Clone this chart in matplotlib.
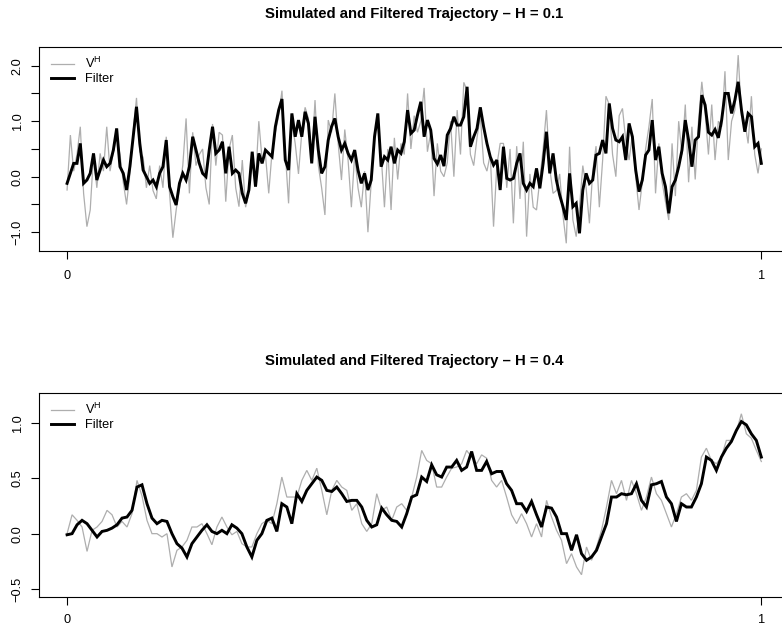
import numpy as np
import matplotlib
matplotlib.use("Agg")
import matplotlib.pyplot as plt
from matplotlib.lines import Line2D

plt.rcParams['font.family'] = ['Liberation Sans', 'DejaVu Sans']
plt.rcParams['mathtext.fontset'] = 'custom'
plt.rcParams['mathtext.rm'] = 'Liberation Sans'

# ---- H = 0.1 : simulated path and filter estimate ----
v_h01 = [
    -0.24, 0.75, 0.10, 0.40, 0.90, -0.30, -0.90, -0.60, 0.40, -0.20, 0.42, 0.10, 0.90, 0.10, 0.45, 0.70,
    0.40, -0.10, -0.50, 0.05, 0.80, 1.42, 0.45, 0.35, -0.20, 0.20, -0.25, -0.40, 0.20, -0.20, 0.72, -0.30,
    -1.10, -0.60, -0.20, 0.20, 1.05, -0.30, 0.80, 0.20, 0.40, 0.50, -0.20, -0.50,
    0.95, 0.20, 0.80, 0.75, -0.45, 0.50, 0.75, -0.20, -0.54, 0.30, -0.55, -0.25, 0.40, -0.10, 1.00, 0.30,
    0.40, -0.30, 0.45, 0.80, 1.10, 1.55, 0.45, -0.48, 1.00, 0.60, 0.05, 0.80, 1.25, 1.05, 0.30, 1.38,
    0.20, -0.20, -0.69, 1.02, 0.80, 1.50, 0.60, -0.06, 0.85, 0.30,
    -0.55, 0.40, -0.20, -0.55, 0.10, -1.00, -0.10, 0.80, 0.90, 0.40, -0.55, 0.50, -0.60, 0.70, -0.05, 0.60,
    0.40, 1.50, 0.50, 1.10, 0.80, 1.00, 1.60, 0.45, 0.80, -0.35, 0.60, 0.10, 0.00, 0.25, 1.00, 0.00,
    1.20, 0.40, 1.70, 1.55, 0.40, 0.20, 0.70, 1.10, 0.25, 0.10,
    0.40, -0.90, 0.20, 0.60, 0.60, -0.20, 0.50, -0.84, 0.55, -0.40, 0.63, -1.08, 0.05, -0.55, -0.60, -0.05,
    0.50, 1.20, 0.15, -0.30, -0.25, 0.05, -0.70, -1.20, 0.54, -0.78, -1.08, -0.55, 0.20, -0.20, -0.84, 0.10,
    0.55, -0.55, 0.30, 1.45, 1.30, 0.40, 0.00, 1.10, 1.23, 0.65,
    0.30, 0.75, 0.00, -0.60, -0.10, 0.50, 0.90, 1.40, -0.30, 0.60, -0.10, -0.45, -0.78, 0.60, -0.35, 1.00,
    0.40, 1.30, -0.10, 0.90, -0.05, 1.00, 1.71, 1.15, 0.40, 1.30, 0.30, 1.00, 0.90, 1.90, 0.30, 1.00,
    1.20, 2.19, 1.10, 1.00, 0.60, 1.45, 0.40, 0.06, 0.50,
]
filter_h01 = [
    -0.12, 0.06, 0.24, 0.24, 0.60, -0.12, -0.06, 0.06, 0.42, -0.06, 0.12, 0.30, 0.18, 0.24, 0.48, 0.87,
    0.18, 0.06, -0.24, 0.18, 0.72, 1.26, 0.60, 0.12, 0.00, -0.12, -0.06, -0.18, 0.06, 0.18, 0.66, -0.18,
    -0.36, -0.51, -0.12, 0.06, -0.06, 0.18, 0.72, 0.48, 0.24, 0.06, 0.00, 0.48,
    0.90, 0.42, 0.48, 0.63, 0.06, 0.54, 0.06, 0.12, 0.06, -0.30, -0.48, -0.24, 0.45, -0.18, 0.42, 0.24,
    0.48, 0.42, 0.36, 0.90, 1.20, 1.40, 0.30, 0.12, 1.14, 0.72, 1.02, 0.72, 1.17, 0.96, 0.24, 1.08,
    0.48, 0.06, 0.18, 0.66, 0.90, 1.05, 0.72, 0.48, 0.60, 0.42,
    0.30, 0.48, 0.12, -0.12, 0.06, -0.24, -0.06, 0.72, 1.14, 0.18, 0.36, 0.30, 0.54, 0.24, 0.48, 0.42,
    0.63, 1.20, 0.78, 0.84, 1.11, 1.35, 0.72, 1.02, 0.84, 0.33, 0.23, 0.39, 0.19, 0.75, 0.87, 1.08,
    0.93, 0.93, 1.08, 1.62, 0.54, 0.72, 0.87, 1.25, 0.90, 0.60,
    0.36, 0.21, 0.30, -0.24, 0.54, -0.03, -0.06, -0.03, 0.24, 0.42, -0.12, -0.24, -0.12, -0.18, 0.15, -0.21,
    0.24, 0.81, 0.06, 0.42, -0.06, -0.33, -0.54, -0.78, 0.06, -0.54, -0.48, -1.02, -0.24, 0.06, -0.12, -0.06,
    0.39, 0.42, 0.66, 0.42, 1.32, 0.87, 0.66, 0.63, 0.72, 0.30,
    0.96, 0.72, 0.12, -0.27, -0.06, 0.39, 0.48, 1.02, 0.30, 0.54, 0.06, -0.18, -0.66, -0.18, -0.06, 0.18,
    0.48, 1.02, 0.66, 0.18, 0.66, 0.72, 1.47, 1.29, 0.80, 0.75, 0.85, 0.70, 1.02, 1.50, 1.50, 1.14,
    1.38, 1.71, 1.20, 0.81, 1.14, 1.08, 0.54, 0.60, 0.24,
]

# ---- H = 0.4 : simulated path and filter estimate ----
v_h04 = [
    0.00, 0.17, 0.12, 0.06, -0.16, 0.03, 0.06, 0.11, 0.21, 0.17, 0.06, 0.11, 0.06, 0.18, 0.48, 0.34,
    0.12, 0.00, 0.00, -0.03, 0.00, -0.30, -0.15, -0.12, -0.06, 0.06, 0.06, 0.09, 0.00,
    -0.10, 0.06, 0.15, 0.06, -0.01, 0.02, -0.09, -0.12, -0.12, 0.00, 0.09, 0.12, 0.09, 0.27, 0.51, 0.33,
    0.33, 0.33, 0.48, 0.57, 0.48, 0.59, 0.39, 0.17, 0.39, 0.48, 0.42, 0.39,
    0.21, 0.27, 0.09, 0.02, 0.09, 0.36, 0.21, 0.24, 0.12, 0.24, 0.27, 0.21, 0.33, 0.51, 0.75, 0.66,
    0.63, 0.42, 0.42, 0.51, 0.59, 0.60, 0.63, 0.75, 0.69, 0.63, 0.71, 0.68,
    0.48, 0.42, 0.48, 0.33, 0.17, 0.09, 0.18, 0.09, -0.03, 0.09, -0.03, 0.30, 0.15, 0.03, -0.06, -0.27,
    -0.18, -0.30, -0.37, -0.12, -0.24, -0.12, 0.03, 0.24, 0.48, 0.36, 0.48, 0.30,
    0.48, 0.36, 0.21, 0.33, 0.51, 0.36, 0.30, 0.18, 0.06, 0.18, 0.33, 0.36, 0.30, 0.39, 0.69, 0.77,
    0.66, 0.63, 0.69, 0.84, 0.84, 0.92, 1.08, 0.90, 0.86, 0.75, 0.65,
]
filter_h04 = [
    -0.01, 0.00, 0.08, 0.12, 0.09, 0.03, -0.03, 0.02, 0.03, 0.05, 0.08, 0.14, 0.15, 0.21, 0.42, 0.44,
    0.27, 0.14, 0.09, 0.12, 0.11, 0.00, -0.09, -0.13, -0.21, -0.09, -0.03, 0.03, 0.08,
    0.02, 0.00, 0.03, 0.00, 0.08, 0.05, 0.00, -0.12, -0.21, -0.06, 0.00, 0.12, 0.14, 0.02, 0.27, 0.24,
    0.09, 0.36, 0.29, 0.39, 0.45, 0.51, 0.48, 0.39, 0.38, 0.42, 0.36, 0.29,
    0.30, 0.30, 0.24, 0.12, 0.06, 0.08, 0.23, 0.17, 0.12, 0.11, 0.06, 0.18, 0.33, 0.35, 0.51, 0.47,
    0.62, 0.53, 0.51, 0.60, 0.60, 0.66, 0.57, 0.60, 0.74, 0.57, 0.57, 0.65,
    0.54, 0.56, 0.56, 0.45, 0.39, 0.27, 0.27, 0.20, 0.29, 0.17, 0.06, 0.24, 0.23, 0.15, 0.00, 0.00,
    -0.15, -0.01, -0.18, -0.24, -0.21, -0.15, -0.03, 0.09, 0.33, 0.33, 0.36, 0.35,
    0.36, 0.45, 0.30, 0.24, 0.44, 0.45, 0.47, 0.33, 0.27, 0.11, 0.27, 0.24, 0.24, 0.33, 0.45, 0.69,
    0.66, 0.57, 0.69, 0.77, 0.83, 0.93, 1.01, 0.98, 0.90, 0.84, 0.69,
]

titles = ["Simulated and Filtered Trajectory \u2013 H = 0.1",
          "Simulated and Filtered Trajectory \u2013 H = 0.4"]
legend_labels = [r"$\mathregular{V^H}$", "Filter"]
x_ticks = [0, 1]
x_tick_labels = ["0", "1"]
y_ticks = [[-1.0, -0.5, 0.0, 0.5, 1.0, 1.5, 2.0], [-0.5, 0.0, 0.5, 1.0]]
y_tick_labels = [["\u22121.0", "", "0.0", "", "1.0", "", "2.0"],
                 ["\u22120.5", "0.0", "0.5", "1.0"]]
y_limits = [(-1.339, 2.337), (-0.568, 1.270)]

GRAY = "#AEAEAE"
W, H = 782, 625
fig = plt.figure(figsize=(W / 100, H / 100), dpi=100)

left_px, right_px = 39.3, 789.1
panel_tops = [47.0, 392.7]
panel_h = 204.0
title_y = [14.0, 361.0]
x_label_pad = [8.0, 6.5]

series = [(v_h01, filter_h01), (v_h04, filter_h04)]

for i in range(2):
    top = panel_tops[i]
    ax = fig.add_axes([left_px / W, 1 - (top + panel_h) / H,
                       (right_px - left_px) / W, panel_h / H])
    v, f = series[i]
    t_v = np.linspace(0, 1, len(v))
    t_f = np.linspace(0, 1, len(f))
    ax.plot(t_v, v, color=GRAY, lw=0.9, solid_joinstyle='miter')
    ax.plot(t_f, f, color="black", lw=2.1, solid_joinstyle='miter')

    ax.set_xlim(-0.04, 1.04)
    ax.set_ylim(*y_limits[i])
    ax.set_xticks(x_ticks)
    ax.set_xticklabels(x_tick_labels)
    ax.set_yticks(y_ticks[i])
    ax.set_yticklabels(y_tick_labels[i], rotation=90, va='center')
    ax.tick_params(axis='both', direction='out', length=5.8, width=0.8,
                   labelsize=9.2, color='black')
    ax.tick_params(axis='x', pad=x_label_pad[i])
    ax.tick_params(axis='y', pad=5.5)
    for sp in ax.spines.values():
        sp.set_linewidth(0.8)
        sp.set_color('black')

    handles = [Line2D([], [], color=GRAY, lw=0.9),
               Line2D([], [], color='black', lw=2.1)]
    ax.legend(handles, legend_labels, loc='upper left',
              bbox_to_anchor=(0.0152, 0.955), frameon=False, fontsize=9.2,
              handlelength=1.85, handletextpad=0.85, borderpad=0,
              borderaxespad=0, labelspacing=0.15)

    fig.text((left_px + right_px) / 2 / W, 1 - title_y[i] / H, titles[i],
             ha='center', va='center', fontsize=10.7, fontweight='bold')

fig.savefig("out.png", dpi=100)
